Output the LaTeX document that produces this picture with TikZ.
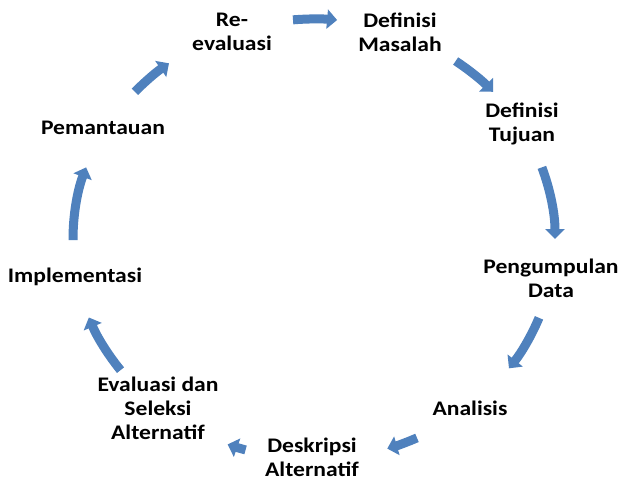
\documentclass[tikz,border=0pt]{standalone}
\usepackage{fontspec}
\newfontfamily\lblfont{Carlito}[FakeStretch=1.14]
\usetikzlibrary{arrows.meta}
\definecolor{arrowblue}{HTML}{4F81BD}
\begin{document}
\begin{tikzpicture}[x=1pt,y=-1pt,
  lbl/.style={font=\lblfont\bfseries\fontsize{20.7}{24}\selectfont, align=center, inner sep=0pt, text=black},
  cyc/.style={draw=arrowblue, line width=9pt, -{Triangle[width=19pt,length=10pt]}}]
\useasboundingbox (0,0) rectangle (623,483);
\fill[white] (0,0) rectangle (623,483);
\coordinate (c) at (314,239);
\node[lbl] (reev) at (232,32) {Re-\\evaluasi};
\node[lbl] (masalah) at (400,32) {Definisi\\Masalah};
\node[lbl] (tujuan) at (522,124) {Definisi\\Tujuan};
\node[lbl] (data) at (551,278) {Pengumpulan\\Data};
\node[lbl] (analisis) at (470,408) {Analisis};
\node[lbl] (deskripsi) at (312,457) {Deskripsi\\Alternatif};
\node[lbl] (evaluasi) at (158,408) {Evaluasi dan\\Seleksi\\Alternatif};
\node[lbl] (impl) at (75,277) {Implementasi};
\node[lbl] (pantau) at (103,128) {Pemantauan};
\foreach \a/\b in {265/275.5, 306/318, 341/360, 21/36, 64.7/72.3, 106.5/111, 143.4/159.1, 179.7/199, 222/233}
  \draw[cyc] (c) ++(\a:241 and 220) arc[start angle=\a, end angle=\b, x radius=241, y radius=220];
\end{tikzpicture}
\end{document}
